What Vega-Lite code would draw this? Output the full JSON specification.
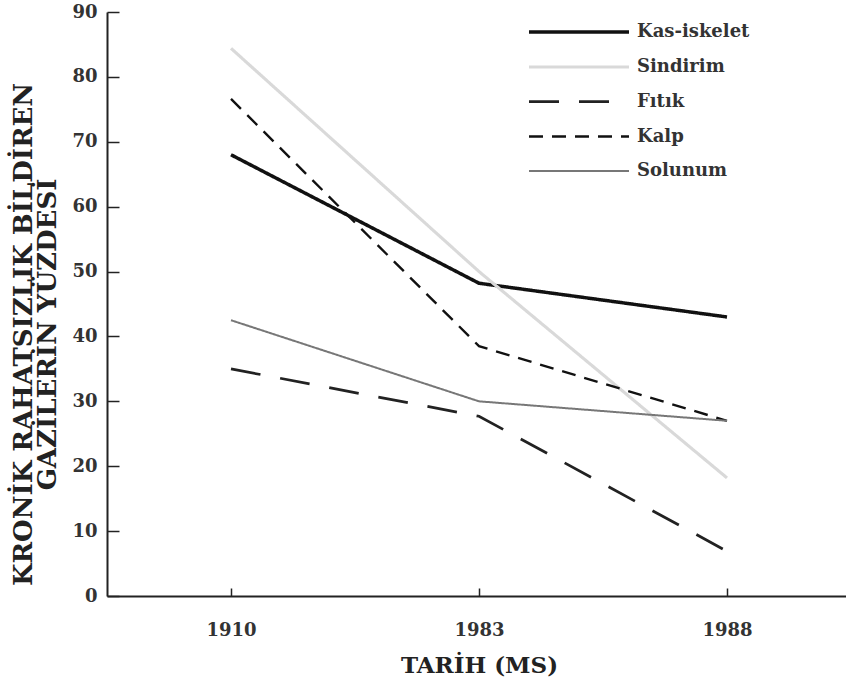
{
  "$schema": "https://vega.github.io/schema/vega-lite/v6.json",
  "width": 744,
  "height": 584,
  "autosize": {"type": "none"},
  "padding": {"left": 107, "top": 12, "right": 0, "bottom": 89},
  "background": "white",
  "config": {
    "view": {"stroke": null},
    "font": "DejaVu Serif"
  },
  "data": {
    "values": [
      {"series": "Kas-iskelet", "year": "1910", "value": 68},
      {"series": "Kas-iskelet", "year": "1983", "value": 48.2},
      {"series": "Kas-iskelet", "year": "1988", "value": 43},
      {"series": "Sindirim", "year": "1910", "value": 84.4},
      {"series": "Sindirim", "year": "1983", "value": 50},
      {"series": "Sindirim", "year": "1988", "value": 18.2},
      {"series": "Fıtık", "year": "1910", "value": 35},
      {"series": "Fıtık", "year": "1983", "value": 27.7},
      {"series": "Fıtık", "year": "1988", "value": 6.9},
      {"series": "Kalp", "year": "1910", "value": 76.6},
      {"series": "Kalp", "year": "1983", "value": 38.5},
      {"series": "Kalp", "year": "1988", "value": 27},
      {"series": "Solunum", "year": "1910", "value": 42.5},
      {"series": "Solunum", "year": "1983", "value": 30},
      {"series": "Solunum", "year": "1988", "value": 27}
    ]
  },
  "mark": {"type": "line", "strokeCap": "butt"},
  "encoding": {
    "x": {
      "field": "year", "type": "ordinal",
      "scale": {"type": "point", "padding": 0.5},
      "axis": {
        "title": "TARİH (MS)", "titleFont": "DejaVu Serif", "titleFontSize": 23, "titleFontWeight": "bold",
        "titleColor": "#222", "titlePadding": 15,
        "labelAngle": 0, "labelFont": "DejaVu Serif", "labelFontSize": 18, "labelFontWeight": "bold", "labelColor": "#333", "labelPadding": 33,
        "domainColor": "#222", "domainWidth": 2, "tickColor": "#222", "tickWidth": 1.5, "tickSize": -8, "grid": false
      }
    },
    "y": {
      "field": "value", "type": "quantitative",
      "scale": {"domain": [0, 90], "nice": false},
      "axis": {
        "title": ["KRONİK RAHATSIZLIK BİLDİREN", "GAZİLERİN YÜZDESİ"],
        "titleFont": "DejaVu Serif", "titleFontSize": 26, "titleFontWeight": "bold", "titleColor": "#222",
        "titleX": -97, "titleY": 322, "titleAngle": -90, "titleAlign": "center", "titleBaseline": "top", "titleLineHeight": 24,
        "values": [0, 10, 20, 30, 40, 50, 60, 70, 80, 90],
        "labelFont": "DejaVu Serif", "labelFontSize": 18, "labelFontWeight": "bold", "labelColor": "#333", "labelPadding": 22,
        "domainColor": "#222", "domainWidth": 2, "tickColor": "#222", "tickWidth": 1.5, "tickSize": -12, "grid": false
      }
    },
    "color": {
      "field": "series", "type": "nominal",
      "scale": {
        "domain": ["Kas-iskelet", "Sindirim", "Fıtık", "Kalp", "Solunum"],
        "range": ["#111111", "#d9d9d9", "#222222", "#111111", "#777777"]
      },
      "legend": {
        "orient": "none", "legendX": 500, "legendY": 8, "title": null,
        "symbolType": "M-9,0H1", "symbolSize": 400,
        "labelFont": "DejaVu Serif", "labelFontSize": 18, "labelFontWeight": "bold", "labelColor": "#333",
        "labelOffset": 6, "rowPadding": 14
      }
    },
    "strokeDash": {
      "field": "series", "type": "nominal",
      "scale": {
        "domain": ["Kas-iskelet", "Sindirim", "Fıtık", "Kalp", "Solunum"],
        "range": [[1, 0], [1, 0], [30, 20], [14, 9], [1, 0]]
      }
    },
    "strokeWidth": {
      "field": "series", "type": "nominal",
      "scale": {
        "domain": ["Kas-iskelet", "Sindirim", "Fıtık", "Kalp", "Solunum"],
        "range": [3.5, 2, 2.5, 3.5, 2.5]
      }
    }
  }
}
